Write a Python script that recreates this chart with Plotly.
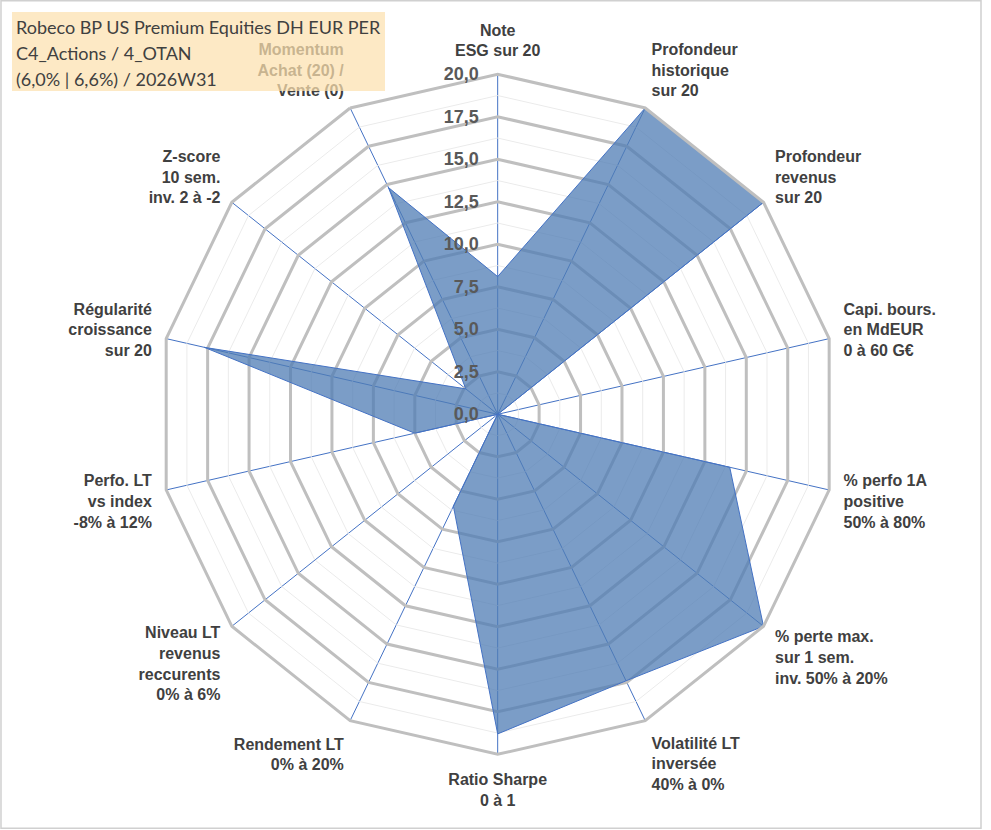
import plotly.graph_objects as go

# axes of the radar, clockwise from the top
categories = [
    "Note<br>ESG sur 20",
    "Profondeur<br>historique<br>sur 20",
    "Profondeur<br>revenus<br>sur 20",
    "Capi. bours.<br>en MdEUR<br>0 à 60 G€",
    "% perfo 1A<br>positive<br>50% à 80%",
    "% perte max.<br>sur 1 sem.<br>inv. 50% à 20%",
    "Volatilité LT<br>inversée<br>40% à 0%",
    "Ratio Sharpe<br>0 à 1",
    "Rendement LT<br>0% à 20%",
    "Niveau LT<br>revenus<br>reccurents<br>0% à 6%",
    "Perfo. LT<br>vs index<br>-8% à 12%",
    "Régularité<br>croissance<br>sur 20",
    "Z-score<br>10 sem.<br>inv. 2 à -2",
    "Momentum<br>Achat (20) /<br>Vente (0)",
]
scores = [8.1, 20, 20, 0, 14, 20, 17.4, 18.8, 6, 0, 5, 17.7, 2.4, 14.8]

title_lines = [
    "Robeco BP US Premium Equities DH EUR PER",
    "C4_Actions / 4_OTAN",
    "(6,0% | 6,6%) / 2026W31",
]
minor_levels = [1.25, 3.75, 6.25, 8.75, 11.25, 13.75, 16.25, 18.75]

theta = categories + categories[:1]

fig = go.Figure()

# thin minor rings between the major grid lines
for lvl in minor_levels:
    fig.add_trace(go.Scatterpolar(
        r=[lvl] * len(theta), theta=theta, mode="lines",
        line=dict(color="#ebebeb", width=1),
        hoverinfo="skip", showlegend=False,
    ))

fig.add_trace(go.Scatterpolar(
    r=scores + scores[:1], theta=theta, mode="lines",
    fill="toself", fillcolor="rgba(79,124,180,0.75)",
    line=dict(color="#4472c4", width=1),
    showlegend=False,
))

fig.update_layout(
    width=991, height=830,
    margin=dict(l=0, r=0, t=0, b=0),
    paper_bgcolor="white",
    separators=", ",
    polar=dict(
        domain=dict(x=[0.1591, 0.8453], y=[0.0912, 0.9105]),
        bgcolor="white",
        gridshape="linear",
        angularaxis=dict(
            direction="clockwise", rotation=90, type="category",
            gridcolor="#4472c4", gridwidth=1.4,
            linecolor="#bfbfbf", linewidth=3, showline=True,
            ticks="outside", ticklen=10, tickcolor="rgba(0,0,0,0)",
            tickfont=dict(family="Liberation Sans", size=16, color="#404040", weight="bold"),
        ),
        radialaxis=dict(
            range=[0, 20], dtick=2.5, tickformat=".1f",
            angle=90, side="counterclockwise", tickangle=90, showline=False,
            gridcolor="#bfbfbf", gridwidth=3,
            ticks="outside", ticklen=12, tickcolor="rgba(0,0,0,0)",
            tickfont=dict(family="Liberation Sans", size=18, color="#595959", weight="bold"),
        ),
    ),
)

# title box drawn over the chart, like the Excel text box
fig.add_shape(type="rect", xref="paper", yref="paper",
              x0=12 / 991, x1=385 / 991, y0=1 - 91 / 830, y1=1 - 12 / 830,
              fillcolor="rgba(252,225,175,0.72)", line=dict(width=0), layer="above")
for i, line in enumerate(title_lines):
    fig.add_annotation(text=line, xref="paper", yref="paper",
                       x=14 / 991, y=1 - (27 + 26 * i) / 830,
                       xanchor="left", yanchor="middle", showarrow=False,
                       font=dict(family="Lato", size=18, color="#404040"))

# outer frame
fig.add_shape(type="rect", xref="paper", yref="paper",
              x0=0.001, x1=981 / 991, y0=0.002, y1=0.999,
              line=dict(color="#d0d0d0", width=1.5), layer="above")

fig.write_html("out.html", config={"displayModeBar": False},
               post_script="document.body.style.margin='0';")
